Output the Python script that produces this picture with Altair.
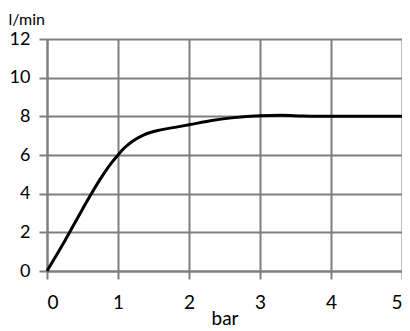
import altair as alt
import pandas as pd

pressure_bar = [0, 0.25, 0.5, 0.75, 0.9, 1.0, 1.1, 1.2, 1.35, 1.6, 1.8, 2.0, 2.3, 2.6, 3.0, 3.3, 3.6, 4.0, 4.5, 5.0]
flow_lmin = [0, 1.55, 3.2, 4.75, 5.55, 6.0, 6.4, 6.7, 7.02, 7.3, 7.43, 7.56, 7.77, 7.92, 8.03, 8.05, 8.02, 8.0, 8.0, 8.0]

x_ticks = [0, 1, 2, 3, 4, 5]
y_ticks = [0, 2, 4, 6, 8, 10, 12]

df = pd.DataFrame({"bar": pressure_bar, "flow": flow_lmin})

FONT = "Lato"
GRID = "#7f7f7f"

chart = alt.Chart(df).mark_line(
    color="black", strokeWidth=3, interpolate="monotone"
).encode(
    x=alt.X("bar:Q", scale=alt.Scale(domain=[0, 5], nice=False),
            axis=alt.Axis(values=x_ticks, title="bar", titleFont=FONT, titleFontSize=19,
                          titleFontWeight="normal", titleColor="black",
                          titleBaseline="alphabetic", titleY=53,
                          labelFont=FONT, labelFontSize=19, labelColor="black",
                          labelPadding=14, tickSize=8, tickColor=GRID, tickWidth=2,
                          domainColor=GRID, domainWidth=2,
                          grid=True, gridColor=GRID, gridWidth=2)),
    y=alt.Y("flow:Q", scale=alt.Scale(domain=[0, 12], nice=False),
            axis=alt.Axis(values=y_ticks, title="l/min", titleFont=FONT, titleFontSize=16,
                          titleFontWeight="normal", titleColor="black", titleAngle=0,
                          titleAlign="left", titleBaseline="alphabetic",
                          titleX=-39, titleY=-15,
                          labelFont=FONT, labelFontSize=18, labelColor="black",
                          labelPadding=9, tickSize=8, tickColor=GRID, tickWidth=2,
                          domainColor=GRID, domainWidth=2,
                          grid=True, gridColor=GRID, gridWidth=2)),
).properties(
    width=355, height=232,
    autosize=alt.AutoSizeParams(type="none"),
    padding={"left": 39, "top": 31, "right": 0, "bottom": 60},
).configure_view(stroke=GRID, strokeWidth=2).configure(background="white")

chart.save("out.html", embed_options={"renderer": "svg", "actions": False})
